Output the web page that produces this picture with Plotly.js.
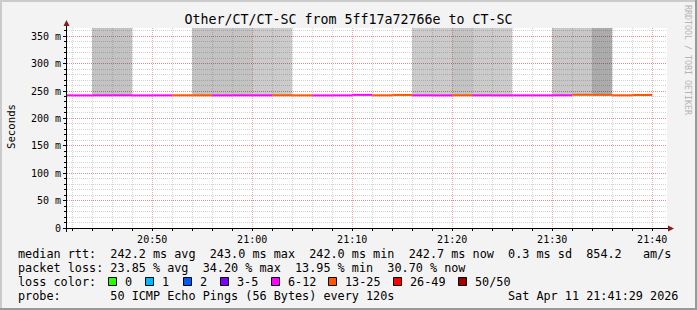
<!DOCTYPE html>
<html><head><meta charset="utf-8">
<script src="https://cdn.plot.ly/plotly-3.0.1.min.js"></script>
<style>html,body{margin:0;padding:0;background:#f3f3f3}#chart{width:697px;height:310px}</style>
</head><body><div id="chart"></div>
<script>
// ---- data ----
const intervalStart = [
  "2026-04-11 20:40:00","2026-04-11 20:42:00","2026-04-11 20:44:00","2026-04-11 20:46:00","2026-04-11 20:48:00",
  "2026-04-11 20:50:00","2026-04-11 20:52:00","2026-04-11 20:54:00","2026-04-11 20:56:00","2026-04-11 20:58:00",
  "2026-04-11 21:00:00","2026-04-11 21:02:00","2026-04-11 21:04:00","2026-04-11 21:06:00","2026-04-11 21:08:00",
  "2026-04-11 21:10:00","2026-04-11 21:12:00","2026-04-11 21:14:00","2026-04-11 21:16:00","2026-04-11 21:18:00",
  "2026-04-11 21:20:00","2026-04-11 21:22:00","2026-04-11 21:24:00","2026-04-11 21:26:00","2026-04-11 21:28:00",
  "2026-04-11 21:30:00","2026-04-11 21:32:00","2026-04-11 21:34:00","2026-04-11 21:36:00","2026-04-11 21:38:00"
];
const medianRtt = [242.1,242.0,242.1,242.2,242.0,242.1,242.2,242.1,242.0,242.1,
                   242.1,242.2,242.1,242.0,242.1,242.9,242.2,242.8,242.1,242.0,
                   242.2,242.1,242.0,242.1,242.1,242.2,243.0,242.9,242.2,242.7];
const lossPct = [18.0,16.4,20.1,22.3,15.2,19.6,28.4,31.0,21.7,13.95,
                 23.1,27.5,29.2,17.8,20.4,22.6,30.1,34.2,21.0,18.6,
                 26.9,23.4,19.2,16.8,22.1,23.7,33.0,32.4,28.8,30.7];
const smokeTop = [null,null,420,420,null,null,null,420,420,420,
                  420,420,null,null,null,null,null,null,420,420,
                  420,420,420,null,null,420,420,420,null,null];
const smokeDensity = [0,0,4,4,0,0,0,4,4,4,
                      2,2,0,0,0,0,0,0,2,2,
                      4,2,2,0,0,3,3,10,0,0];
const lossBins = ['0','1','2','3-5','6-12','13-25','26-49','50/50'];
const lossBinMaxPings = [0,1,2,5,12,25,49,50];
const lossBinColors = ['#26ff00','#00b8ff','#0059ff','#7e00ff','#ff00ff','#ff5500','#ff0000','#a10000'];
const pingsPerProbe = 50;
const yTickVals = [0,50,100,150,200,250,300,350];
const yTickText = ['0','50 m','100 m','150 m','200 m','250 m','300 m','350 m'];
const rangeStart = "2026-04-11 20:41:29", rangeEnd = "2026-04-11 21:41:29";
const titleText = "Other/CT/CT-SC from 5ff17a72766e to CT-SC";
const rttLine  = "median rtt:  242.2 ms avg  243.0 ms max  242.0 ms min  242.7 ms now  0.3 ms sd  854.2   am/s";
const lossLine = "packet loss: 23.85 % avg  34.20 % max  13.95 % min  30.70 % now";
const probeLine = "probe:       50 ICMP Echo Pings (56 Bytes) every 120s";
const dateLine = "Sat Apr 11 21:41:29 2026";

// ---- geometry helpers (pixel -> paper) ----
const L=67, T=28, W=600, H=200;
const px = x => (x - L) / W;
const py = y => (T + H - y) / H;
const nb = s => s.replace(/ /g, '\u00a0');
const mono = 'DejaVu Sans Mono';
const STEP = 120000;
function addMs(s, ms){ const d = new Date(s.replace(' ','T')); return new Date(d.getTime()+ms); }
function fmt(d){ const p=n=>String(n).padStart(2,'0'); return d.getFullYear()+'-'+p(d.getMonth()+1)+'-'+p(d.getDate())+' '+p(d.getHours())+':'+p(d.getMinutes())+':'+p(d.getSeconds()); }
function binOf(pct){ const n = Math.round(pct*pingsPerProbe/100); for(let i=0;i<lossBinMaxPings.length;i++){ if(n<=lossBinMaxPings[i]) return i; } return lossBinMaxPings.length-1; }

const traces = [];
// smoke
const sx=[], sy=[], sb=[], sc=[];
intervalStart.forEach((t,k)=>{
  if(smokeTop[k]!==null){
    sx.push(fmt(addMs(t, STEP/2))); sb.push(medianRtt[k]); sy.push(smokeTop[k]-medianRtt[k]);
    sc.push('rgba(0,0,0,'+(0.17+smokeDensity[k]*0.016).toFixed(3)+')');
  }
});
traces.push({type:'bar', x:sx, y:sy, base:sb, width:STEP, marker:{color:sc, line:{width:0}}, hoverinfo:'skip', showlegend:false});
// median line coloured by loss
const segs = {};
intervalStart.forEach((t,k)=>{
  const b = binOf(lossPct[k]);
  if(!segs[b]) segs[b] = {x:[], y:[]};
  segs[b].x.push(t, fmt(addMs(t, STEP)), null);
  segs[b].y.push(medianRtt[k], medianRtt[k], null);
});
Object.keys(segs).forEach(b=>{
  traces.push({type:'scatter', mode:'lines', x:segs[b].x, y:segs[b].y, line:{color:lossBinColors[b], width:2}, hoverinfo:'skip', showlegend:false});
});

const shapes = [];
const ann = [];
// frame
shapes.push({type:'line', xref:'paper', yref:'paper', x0:px(0), x1:px(697), y0:py(1), y1:py(1), line:{color:'#cbcbcb', width:2}});
shapes.push({type:'line', xref:'paper', yref:'paper', x0:px(1), x1:px(1), y0:py(0), y1:py(310), line:{color:'#cbcbcb', width:2}});
shapes.push({type:'line', xref:'paper', yref:'paper', x0:px(0), x1:px(697), y0:py(309), y1:py(309), line:{color:'#999999', width:2}});
shapes.push({type:'line', xref:'paper', yref:'paper', x0:px(696), x1:px(696), y0:py(0), y1:py(310), line:{color:'#999999', width:2}});
// axes lines + arrows
shapes.push({type:'line', xref:'paper', yref:'paper', x0:px(63), x1:px(669), y0:py(228.5), y1:py(228.5), line:{color:'#000', width:1}});
shapes.push({type:'line', xref:'paper', yref:'paper', x0:px(66.5), x1:px(66.5), y0:py(232), y1:py(24), line:{color:'#000', width:1}});
shapes.push({type:'path', xref:'paper', yref:'paper', path:`M ${px(668)} ${py(225.5)} L ${px(674)} ${py(228.5)} L ${px(668)} ${py(231.5)} Z`, fillcolor:'#8b1a1a', line:{width:0}});
shapes.push({type:'path', xref:'paper', yref:'paper', path:`M ${px(63.5)} ${py(26)} L ${px(66.5)} ${py(20)} L ${px(69.5)} ${py(26)} Z`, fillcolor:'#8b1a1a', line:{width:0}});

// legend rows
const tf = {family:mono, size:11.8, color:'#000'};
[[rttLine,254],[lossLine,268],["loss color:",282],[probeLine,296]].forEach(([s,y])=>{
  ann.push({xref:'paper', yref:'paper', x:px(16), y:py(y), xanchor:'left', yanchor:'middle', text:nb(s), showarrow:false, font:tf});
});
ann.push({xref:'paper', yref:'paper', x:px(680), y:py(296), xanchor:'right', yanchor:'middle', text:nb(dateLine), showarrow:false, font:tf});
const sqX = [108,145,183,220,271,328,393,458];
lossBins.forEach((lab,i)=>{
  shapes.push({type:'rect', xref:'paper', yref:'paper', x0:px(sqX[i]+0.5), x1:px(sqX[i]+8.5), y0:py(277.5), y1:py(285.5), fillcolor:lossBinColors[i], line:{color:'#000', width:1}});
  ann.push({xref:'paper', yref:'paper', x:px(sqX[i]+15), y:py(282), xanchor:'left', yanchor:'middle', text:lab, showarrow:false, font:tf});
});
// y axis label + watermark
ann.push({xref:'paper', yref:'paper', x:px(11), y:py(127), xanchor:'center', yanchor:'middle', text:'Seconds', textangle:-90, showarrow:false, font:{family:mono, size:10.7, color:'#000'}});
ann.push({xref:'paper', yref:'paper', x:px(688), y:py(60), xanchor:'center', yanchor:'middle', text:nb('RRDTOOL / TOBI OETIKER'), textangle:90, showarrow:false, font:{family:mono, size:8.3, color:'#b4b4b4'}});

const majorGrid = 'rgba(225,50,50,0.42)', minorGrid = 'rgba(120,120,120,0.32)';
const layout = {
  width:697, height:310,
  margin:{l:L, r:697-L-W, t:T, b:310-T-H, pad:0},
  paper_bgcolor:'#f3f3f3', plot_bgcolor:'#ffffff',
  title:{text:titleText, font:{family:mono, size:13.3, color:'#000'}, x:0.5, xanchor:'center', y:1-19/310, yanchor:'middle'},
  barmode:'overlay', showlegend:false,
  xaxis:{type:'date', range:[rangeStart, rangeEnd], tick0:'2026-04-11 20:00:00', dtick:600000, tickformat:'%H:%M',
    showgrid:true, gridcolor:majorGrid, griddash:'1px,1px', gridwidth:1, zeroline:false, showline:false,
    ticks:'outside', ticklen:2, tickcolor:'#000', tickfont:{family:mono, size:10, color:'#000'},
    minor:{dtick:STEP, tick0:'2026-04-11 20:00:00', showgrid:true, gridcolor:minorGrid, griddash:'1px,1px', ticks:'outside', ticklen:2, tickcolor:'#000'},
    fixedrange:true},
  yaxis:{range:[0,365], tickmode:'array', tickvals:yTickVals, ticktext:yTickText,
    showgrid:true, gridcolor:majorGrid, griddash:'1px,1px', gridwidth:1, zeroline:false, showline:false,
    ticks:'outside', ticklen:3, tickcolor:'#000', tickfont:{family:mono, size:10, color:'#000'},
    minor:{dtick:10, tick0:0, showgrid:true, gridcolor:minorGrid, griddash:'1px,1px', ticks:'outside', ticklen:2, tickcolor:'#000'},
    fixedrange:true},
  shapes:shapes, annotations:ann
};
Plotly.newPlot('chart', traces, layout, {staticPlot:true, displayModeBar:false});
</script></body></html>
